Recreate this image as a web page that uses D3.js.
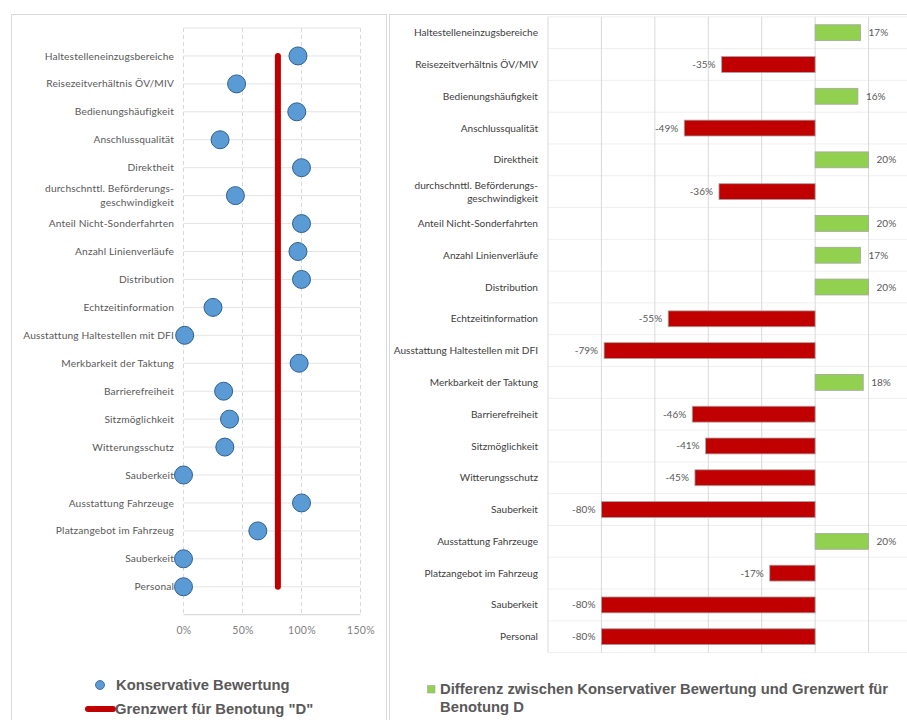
<!DOCTYPE html>
<html>
<head>
<meta charset="utf-8">
<script src="https://cdn.jsdelivr.net/npm/d3@7"></script>
<style>
  html, body { margin: 0; padding: 0; background: #ffffff; }
  svg { display: block; }
</style>
</head>
<body>
<svg id="chart" width="907" height="720"></svg>
<script>
// Kriterien (von oben nach unten)
const categories = [
  "Haltestelleneinzugsbereiche",
  "Reisezeitverhältnis ÖV/MIV",
  "Bedienungshäufigkeit",
  "Anschlussqualität",
  "Direktheit",
  "durchschnttl. Beförderungs-\ngeschwindigkeit",
  "Anteil Nicht-Sonderfahrten",
  "Anzahl Linienverläufe",
  "Distribution",
  "Echtzeitinformation",
  "Ausstattung Haltestellen mit DFI",
  "Merkbarkeit der Taktung",
  "Barrierefreiheit",
  "Sitzmöglichkeit",
  "Witterungsschutz",
  "Sauberkeit",
  "Ausstattung Fahrzeuge",
  "Platzangebot im Fahrzeug",
  "Sauberkeit",
  "Personal"
];

// Konservative Bewertung (Anteil)
const bewertung = [0.97, 0.45, 0.96, 0.31, 1.00, 0.44, 1.00, 0.97, 1.00, 0.25,
                   0.01, 0.98, 0.34, 0.39, 0.35, 0.00, 1.00, 0.63, 0.00, 0.00];

// Grenzwert für Benotung "D"
const grenzwert = 0.80;

// Differenz zwischen Bewertung und Grenzwert
const differenz = [0.17, -0.35, 0.16, -0.49, 0.20, -0.36, 0.20, 0.17, 0.20, -0.55,
                   -0.79, 0.18, -0.46, -0.41, -0.45, -0.80, 0.20, -0.17, -0.80, -0.80];

const leftTicks = [0, 0.5, 1.0, 1.5];
const rightTicks = [-1.0, -0.8, -0.6, -0.4, -0.2, 0, 0.2, 0.4];

// Prozentformat mit normalem Bindestrich als Minuszeichen
const pct = d3.formatLocale({ decimal: ",", thousands: ".", grouping: [3],
  currency: ["", " €"], minus: "-" }).format(".0%");
const svg = d3.select("#chart");
const labelFont = "Lato, 'Open Sans', sans-serif";
const legendFont = "'Liberation Sans', Arial, sans-serif";

// ---------- linkes Diagramm: Punktdiagramm ----------
const L = svg.append("g");
L.append("rect").attr("x", 11.5).attr("y", 14.5).attr("width", 375).attr("height", 720)
  .attr("fill", "#fff").attr("stroke", "#d9d9d9");

const n = categories.length;
const lx = d3.scaleLinear().domain([0, 1.5]).range([183.5, 360.5]);
const ly = d3.scaleLinear().domain([0, n + 1]).range([614.7, 28]);
const rowVal = i => n - i;

// horizontale Gitterlinien
L.append("g").selectAll("line").data(d3.range(0, n + 2)).join("line")
  .attr("x1", lx(0)).attr("x2", lx(1.5))
  .attr("y1", d => ly(d)).attr("y2", d => ly(d))
  .attr("stroke", d => d === 0 ? "#d0d0d0" : "#e4e4e4").attr("stroke-width", 1);

// vertikale gestrichelte Gitterlinien
L.append("g").selectAll("line").data(leftTicks).join("line")
  .attr("x1", d => lx(d)).attr("x2", d => lx(d))
  .attr("y1", ly(n + 1)).attr("y2", ly(0))
  .attr("stroke", "#d9d9d9").attr("stroke-dasharray", "4,3");

// x-Achse
const lAxis = L.append("g").attr("transform", `translate(0,${ly(0)})`)
  .call(d3.axisBottom(lx).tickValues(leftTicks).tickFormat(pct).tickSize(0).tickPadding(12));
lAxis.select(".domain").remove();
lAxis.selectAll("text").attr("fill", "#7f7f7f").attr("font-size", 10.5)
  .attr("font-family", labelFont).attr("letter-spacing", 0.3);

// Kategorienbeschriftung
const lLabels = L.append("g").selectAll("text").data(categories).join("text")
  .attr("x", 174).attr("y", (d, i) => ly(rowVal(i)))
  .attr("text-anchor", "end").attr("fill", "#595959")
  .attr("font-size", 10.2).attr("font-family", labelFont).attr("letter-spacing", 0.15);
lLabels.each(function (d) {
  const parts = d.split("\n");
  const t = d3.select(this);
  parts.forEach((p, k) => {
    t.append("tspan").attr("x", 174)
      .attr("dy", k === 0 ? (parts.length > 1 ? "-0.35em" : "0.35em") : "1.35em")
      .text(p);
  });
});

// Grenzwertlinie
L.append("line")
  .attr("x1", lx(grenzwert)).attr("x2", lx(grenzwert))
  .attr("y1", ly(n)).attr("y2", ly(1))
  .attr("stroke", "#c00000").attr("stroke-width", 6).attr("stroke-linecap", "round");

// Punkte
L.append("g").selectAll("circle").data(bewertung).join("circle")
  .attr("cx", d => lx(d)).attr("cy", (d, i) => ly(rowVal(i))).attr("r", 9)
  .attr("fill", "#5b9bd5").attr("stroke", "#2f5f8f").attr("stroke-width", 1);

// Legende links
L.append("circle").attr("cx", 100).attr("cy", 685).attr("r", 4.5)
  .attr("fill", "#5b9bd5").attr("stroke", "#2f5f8f").attr("stroke-width", 0.8);
L.append("text").attr("x", 116).attr("y", 690).text("Konservative Bewertung")
  .attr("font-family", legendFont).attr("font-weight", "bold").attr("font-size", 14.8)
  .attr("fill", "#595959");
L.append("line").attr("x1", 88).attr("x2", 113).attr("y1", 709).attr("y2", 709)
  .attr("stroke", "#c00000").attr("stroke-width", 6).attr("stroke-linecap", "round");
L.append("text").attr("x", 115).attr("y", 714).text("Grenzwert für Benotung \"D\"")
  .attr("font-family", legendFont).attr("font-weight", "bold").attr("font-size", 14.8)
  .attr("fill", "#595959");

// ---------- rechtes Diagramm: Balkendiagramm ----------
const R = svg.append("g");
R.append("rect").attr("x", 389.5).attr("y", 14.5).attr("width", 540).attr("height", 720)
  .attr("fill", "#fff").attr("stroke", "#d9d9d9");

const rx = d3.scaleLinear().domain([-1.0, 0.4]).range([548, 922]);
const ry = d3.scaleBand().domain(d3.range(n)).range([16.8, 652.6])
  .paddingInner(0.5).paddingOuter(0.25);
const step = ry.step();

// horizontale Gitterlinien zwischen den Kategorien
R.append("g").selectAll("line").data(d3.range(n + 1)).join("line")
  .attr("x1", rx(-1.0)).attr("x2", 907)
  .attr("y1", k => 16.8 + k * step).attr("y2", k => 16.8 + k * step)
  .attr("stroke", "#efefef");

// vertikale Gitterlinien
R.append("g").selectAll("line").data(rightTicks).join("line")
  .attr("x1", d => rx(d)).attr("x2", d => rx(d))
  .attr("y1", 16.8).attr("y2", 652.6)
  .attr("stroke", "#d9d9d9");

// Balken
R.append("g").selectAll("rect").data(differenz).join("rect")
  .attr("x", d => rx(Math.min(0, d)))
  .attr("width", d => Math.abs(rx(d) - rx(0)))
  .attr("y", (d, i) => ry(i)).attr("height", ry.bandwidth())
  .attr("fill", d => d >= 0 ? "#92d050" : "#c00000")
  .attr("stroke", "#a5a5a5").attr("stroke-width", 0.8);

// Werte an den Balken
R.append("g").selectAll("text").data(differenz).join("text")
  .attr("x", d => d >= 0 ? rx(d) + 8 : rx(d) - 6)
  .attr("y", (d, i) => ry(i) + ry.bandwidth() / 2)
  .attr("dy", "0.35em")
  .attr("text-anchor", d => d >= 0 ? "start" : "end")
  .attr("fill", "#595959").attr("font-size", 10).attr("font-family", labelFont)
  .text(d => pct(d));

// Kategorienbeschriftung rechts
const rLabels = R.append("g").selectAll("text").data(categories).join("text")
  .attr("x", 538).attr("y", (d, i) => ry(i) + ry.bandwidth() / 2)
  .attr("text-anchor", "end").attr("fill", "#404040")
  .attr("font-size", 10.1).attr("font-family", labelFont);
rLabels.each(function (d) {
  const parts = d.split("\n");
  const t = d3.select(this);
  parts.forEach((p, k) => {
    t.append("tspan").attr("x", 538)
      .attr("dy", k === 0 ? (parts.length > 1 ? "-0.3em" : "0.35em") : "1.3em")
      .text(p);
  });
});

// Legende rechts
R.append("rect").attr("x", 427.5).attr("y", 685.5).attr("width", 7.5).attr("height", 7.5)
  .attr("fill", "#92d050").attr("stroke", "#a5a5a5").attr("stroke-width", 0.6);
const rLeg = R.append("text").attr("font-family", legendFont).attr("font-weight", "bold")
  .attr("font-size", 14.8).attr("fill", "#595959");
rLeg.append("tspan").attr("x", 440).attr("y", 694)
  .text("Differenz zwischen Konservativer Bewertung und Grenzwert für");
rLeg.append("tspan").attr("x", 440).attr("y", 712).text("Benotung D");
</script>
</body>
</html>
